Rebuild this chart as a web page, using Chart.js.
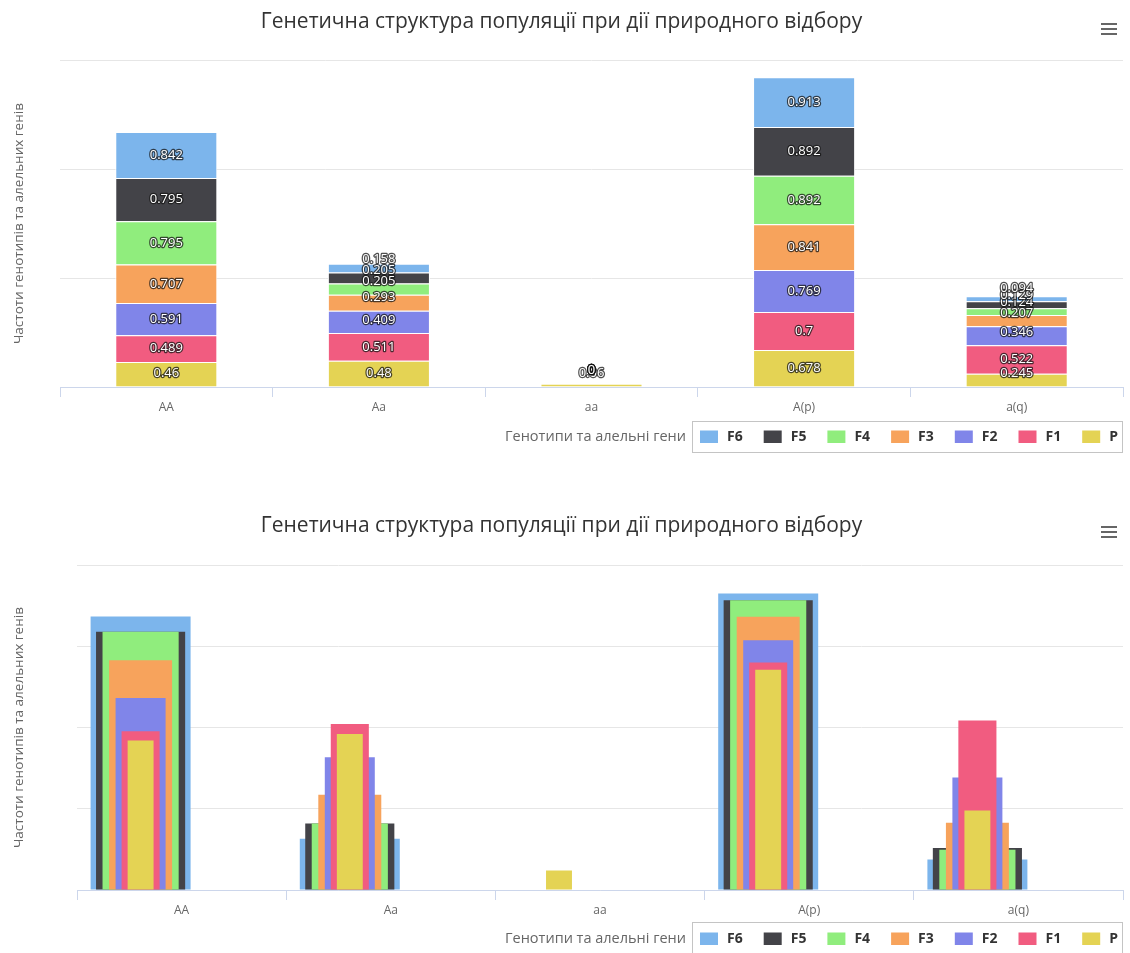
<!DOCTYPE html>
<html>
<head>
<meta charset="utf-8">
<title>Генетична структура популяції</title>
<script src="https://cdn.jsdelivr.net/npm/chart.js@4.4.1/dist/chart.umd.min.js"></script>
<style>
    html, body { margin: 0; padding: 0; background: #fff; overflow: hidden; }
    body { width: 1130px; height: 953px; position: relative; }
    .grafico { position: absolute; left: 0; width: 1130px; height: 465px; }
    .menu { position: absolute; width: 16px; height: 2px; background: #666;
            box-shadow: 0 5px 0 #666, 0 10px 0 #666; }
</style>
</head>
<body>
<div class="grafico" style="top:0"><canvas id="graficoEmpilhado" width="1130" height="465"></canvas></div>
<div class="grafico" style="top:502px"><canvas id="graficoSobreposto" width="1130" height="465"></canvas></div>
<div class="menu" style="left:1101px;top:23px"></div>
<div class="menu" style="left:1101px;top:526px"></div>
<script>
// dados
const genotipos = ['AA', 'Aa', 'aa', 'A(p)', 'a(q)'];
const geracoes = ['P', 'F1', 'F2', 'F3', 'F4', 'F5', 'F6'];

const valoresP  = [0.46, 0.48, 0.06, 0.678, 0.245];
const valoresF1 = [0.489, 0.511, 0, 0.7, 0.522];
const valoresF2 = [0.591, 0.409, 0, 0.769, 0.346];
const valoresF3 = [0.707, 0.293, 0, 0.841, 0.207];
const valoresF4 = [0.795, 0.205, 0, 0.892, 0.124];
const valoresF5 = [0.795, 0.205, 0, 0.892, 0.129];
const valoresF6 = [0.842, 0.158, 0, 0.913, 0.094];

const tituloGrafico = 'Генетична структура популяції при дії природного відбору';
const tituloEixoX = 'Генотипи та алельні гени';
const tituloEixoY = 'Частоти генотипів та алельних генів';

// estilo
const cores = ['#e4d354', '#f15c80', '#8085e9', '#f7a35c', '#90ed7d', '#434348', '#7cb5ec'];
const largurasSobrepostas = [0.124, 0.182, 0.239, 0.301, 0.364, 0.426, 0.478];
const deslocamentoBarras = -0.196;
const fonte = '"Open Sans", "DejaVu Sans", sans-serif';

const todasSeries = [valoresP, valoresF1, valoresF2, valoresF3, valoresF4, valoresF5, valoresF6];

// rótulos de valor dentro das barras empilhadas
const rotulosBarras = {
    id: 'rotulosBarras',
    afterDatasetsDraw(chart) {
        const ctx = chart.ctx;
        ctx.save();
        ctx.font = '13px ' + fonte;
        ctx.textAlign = 'center';
        ctx.textBaseline = 'middle';
        ctx.lineJoin = 'round';
        ctx.lineWidth = 2.5;
        ctx.strokeStyle = 'rgba(20,20,20,0.75)';
        ctx.fillStyle = '#fff';
        chart.data.datasets.forEach(function (ds, i) {
            chart.getDatasetMeta(i).data.forEach(function (barra, j) {
                const texto = String(ds.data[j]);
                const y = Math.min((barra.y + barra.base) / 2, barra.base - 13);
                ctx.strokeText(texto, barra.x, y);
                ctx.fillText(texto, barra.x, y);
            });
        });
        ctx.restore();
    }
};

// legenda com moldura + título do eixo X à esquerda dela
const legendaCaixa = {
    id: 'legendaCaixa',
    afterDraw(chart, args, opts) {
        const ctx = chart.ctx;
        const meio = opts.y + opts.altura / 2;
        ctx.save();
        ctx.strokeStyle = '#c4c4c4';
        ctx.lineWidth = 1;
        ctx.strokeRect(opts.x + 0.5, opts.y + 0.5, opts.largura, opts.altura);

        ctx.font = '14.5px ' + fonte;
        ctx.fillStyle = '#666';
        ctx.textAlign = 'right';
        ctx.textBaseline = 'middle';
        ctx.fillText(tituloEixoX, opts.x - 6, meio);

        ctx.font = 'bold 14px ' + fonte;
        ctx.textAlign = 'left';
        const itens = chart.data.datasets.slice().reverse();
        itens.forEach(function (ds, k) {
            const x = opts.x + 8 + k * 63.7;
            ctx.fillStyle = ds.backgroundColor;
            ctx.fillRect(x, meio - 6, 18, 12.5);
            ctx.fillStyle = '#333';
            ctx.fillText(ds.label, x + 27, meio + 1);
        });
        ctx.restore();
    }
};

function opcoesTitulo(topo, baixo) {
    return {
        display: true,
        text: tituloGrafico,
        color: '#333',
        font: { family: fonte, size: 21, weight: 'normal', lineHeight: 1.15 },
        padding: { top: topo, bottom: baixo }
    };
}

function eixoY(max, passo, largura) {
    return {
        stacked: max > 1,
        min: 0,
        max: max,
        ticks: { display: false, stepSize: passo },
        grid: { color: '#e6e6e6', drawTicks: false },
        border: { display: false },
        title: {
            display: true,
            text: tituloEixoY,
            color: '#666',
            font: { family: fonte, size: 13.5 },
            padding: { top: 11, bottom: 0 }
        },
        afterFit: function (s) { s.width = largura; }
    };
}

function eixoX(altura, empilhado) {
    return {
        type: 'category',
        stacked: empilhado,
        offset: true,
        grid: { offset: true, drawOnChartArea: false, drawTicks: true, tickLength: 10, color: '#ccd6eb' },
        border: { color: '#ccd6eb' },
        ticks: { color: '#666', font: { family: fonte, size: 12 }, padding: 3 },
        afterFit: function (s) { s.height = altura; }
    };
}

// gráfico 1: barras empilhadas
function plotarGraficoEmpilhado() {
    const dados = {
        labels: genotipos,
        datasets: geracoes.map(function (nome, i) {
            return {
                label: nome,
                data: todasSeries[i],
                backgroundColor: cores[i],
                borderColor: '#fff',
                borderWidth: 1,
                barPercentage: 0.8,
                categoryPercentage: 0.6
            };
        })
    };

    const config = {
        type: 'bar',
        data: dados,
        options: {
            responsive: false,
            animation: false,
            devicePixelRatio: 1,
            layout: { padding: { left: 0, right: 7, top: 0, bottom: 0 } },
            scales: {
                x: eixoX(78, true),
                y: eixoY(6, 2, 60)
            },
            plugins: {
                title: opcoesTitulo(10, 26),
                legend: { display: false },
                tooltip: { enabled: false },
                legendaCaixa: { x: 692, y: 421, largura: 430, altura: 31 }
            }
        },
        plugins: [rotulosBarras, legendaCaixa]
    };

    new Chart(document.getElementById('graficoEmpilhado'), config);
}

// gráfico 2: barras sobrepostas, cada geração com largura própria
function plotarGraficoSobreposto() {
    const dados = {
        labels: genotipos,
        datasets: geracoes.map(function (nome, i) {
            return {
                label: nome,
                data: todasSeries[i].map(function (v, j) { return { x: j + deslocamentoBarras, y: v }; }),
                backgroundColor: cores[i],
                borderWidth: 0,
                xAxisID: 'xb',
                grouped: false,
                barPercentage: largurasSobrepostas[i],
                categoryPercentage: 1
            };
        })
    };

    const config = {
        type: 'bar',
        data: dados,
        options: {
            responsive: false,
            animation: false,
            devicePixelRatio: 1,
            layout: { padding: { left: 0, right: 7, top: 0, bottom: 0 } },
            scales: {
                x: eixoX(77, false),
                xb: {
                    type: 'linear',
                    display: false,
                    offset: false,
                    min: -0.5,
                    max: 4.5,
                    afterBuildTicks: function (s) {
                        s.ticks = s.ticks.filter(function (t) { return Number.isInteger(t.value); });
                    }
                },
                y: eixoY(1, 0.25, 77)
            },
            plugins: {
                title: opcoesTitulo(12, 27),
                legend: { display: false },
                tooltip: { enabled: false },
                legendaCaixa: { x: 692, y: 420, largura: 430, altura: 33 }
            }
        },
        plugins: [legendaCaixa]
    };

    new Chart(document.getElementById('graficoSobreposto'), config);
}

plotarGraficoEmpilhado();
plotarGraficoSobreposto();
</script>
</body>
</html>
